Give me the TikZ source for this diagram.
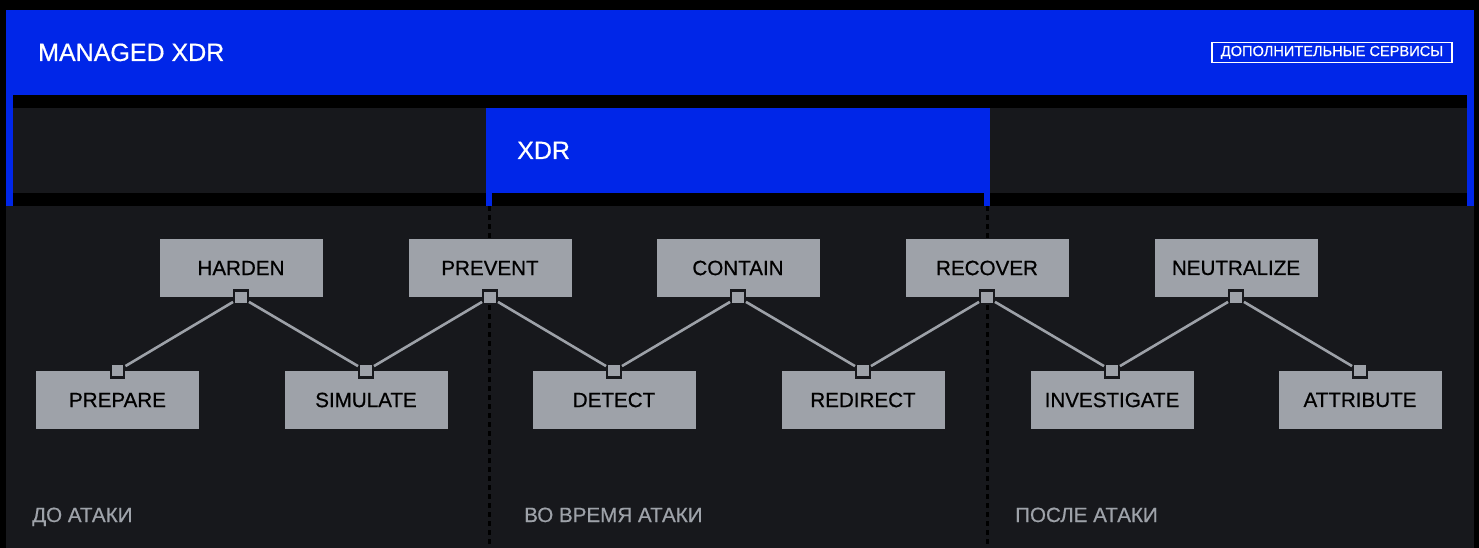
\documentclass[tikz,border=0pt]{standalone}
\usepackage{fontspec}
\setmainfont{Liberation Sans}[FakeBold=0.6]
\definecolor{xblue}{HTML}{0026E8}
\definecolor{xdark}{HTML}{17181C}
\definecolor{xgray}{HTML}{9EA2A9}
\definecolor{xline}{HTML}{9DA1A8}
\tikzset{
  stepbox/.style={fill=xgray, minimum width=163pt, minimum height=58pt, inner sep=0pt,
    font=\fontsize{20.6}{24}\selectfont, text=black},
  port/.style={fill=xgray, draw=xdark, line width=2.4pt, minimum size=13.5pt, inner sep=0pt},
  link/.style={draw=xline, line width=2.6pt},
  divider/.style={draw=black, line width=3pt, dash pattern=on 5pt off 4pt},
  phase/.style={anchor=base west, inner sep=0pt, text=xgray, font=\fontsize{20.6}{24}\selectfont},
  title/.style={anchor=base west, inner sep=0pt, text=white, font=\fontsize{25}{30}\selectfont},
}
\begin{document}
\begin{tikzpicture}[x=1pt, y=-1pt]
\useasboundingbox (0,0) rectangle (1479,548);
% backgrounds
\fill[black] (0,0) rectangle (1479,548);
\fill[xdark] (6,108) rectangle (1474,548);
\fill[black] (6,193) rectangle (1474,206);
\fill[xblue] (6,10) rectangle (1474,95);
\fill[xblue] (6,95) rectangle (13,206);
\fill[xblue] (1467,95) rectangle (1474,206);
\fill[xblue] (486,108) rectangle (990,193);
\fill[xblue] (486,193) rectangle (492,206);
\fill[xblue] (984,193) rectangle (990,206);
% dividers
\coordinate (d1t) at (489,206); \coordinate (d1b) at (489,548);
\coordinate (d2t) at (987,206); \coordinate (d2b) at (987,548);
\draw[divider] (d1t) -- (d1b);
\draw[divider] (d2t) -- (d2b);
% titles
\node[title] (managed) at (38,61) {MANAGED XDR};
\node[title] (xdr) at (517,159) {XDR};
\node[draw=white, line width=1.1pt, minimum width=240pt, minimum height=20.5pt, inner sep=0pt,
  text=white, font=\fontsize{14.6}{17}\selectfont] (extra) at (1332,52.4) {ДОПОЛНИТЕЛЬНЫЕ СЕРВИСЫ};
% boxes
\node[stepbox] (harden) at (241,268) {HARDEN};
\node[stepbox] (prevent) at (490,268) {PREVENT};
\node[stepbox] (contain) at (738,268) {CONTAIN};
\node[stepbox] (recover) at (987,268) {RECOVER};
\node[stepbox] (neutralize) at (1236,268) {NEUTRALIZE};
\node[stepbox] (prepare) at (117.5,400) {PREPARE};
\node[stepbox] (simulate) at (366,400) {SIMULATE};
\node[stepbox] (detect) at (614,400) {DETECT};
\node[stepbox] (redirect) at (863,400) {REDIRECT};
\node[stepbox] (investigate) at (1112,400) {INVESTIGATE};
\node[stepbox] (attribute) at (1360,400) {ATTRIBUTE};
% ports
\node[port] (hs) at (harden.south) {};
\node[port] (ps) at (prevent.south) {};
\node[port] (cs) at (contain.south) {};
\node[port] (rs) at (recover.south) {};
\node[port] (ns) at (neutralize.south) {};
\node[port] (pn) at (prepare.north) {};
\node[port] (sn) at (simulate.north) {};
\node[port] (dn) at (detect.north) {};
\node[port] (rn) at (redirect.north) {};
\node[port] (in) at (investigate.north) {};
\node[port] (an) at (attribute.north) {};
% links
\draw[link] (hs) -- (pn);
\draw[link] (hs) -- (sn);
\draw[link] (ps) -- (sn);
\draw[link] (ps) -- (dn);
\draw[link] (cs) -- (dn);
\draw[link] (cs) -- (rn);
\draw[link] (rs) -- (rn);
\draw[link] (rs) -- (in);
\draw[link] (ns) -- (in);
\draw[link] (ns) -- (an);
% phases
\node[phase] (before) at (32,522) {ДО АТАКИ};
\node[phase] (during) at (524,522) {ВО ВРЕМЯ АТАКИ};
\node[phase] (after) at (1015,522) {ПОСЛЕ АТАКИ};
\end{tikzpicture}
\end{document}
